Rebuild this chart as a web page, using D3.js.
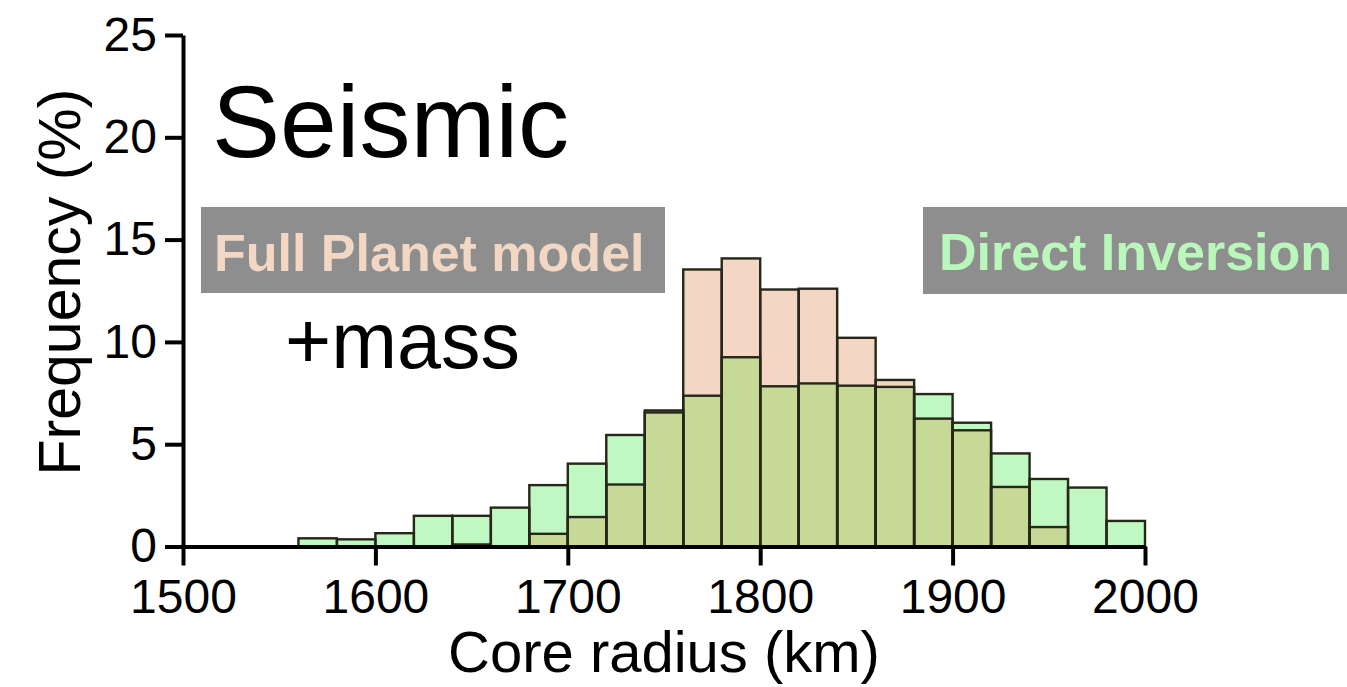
<!DOCTYPE html>
<html>
<head>
<meta charset="utf-8">
<script src="https://cdn.jsdelivr.net/npm/d3@7"></script>
<style>
    body { margin: 0; background: #fff; }
    svg { display: block; font-family: "Liberation Sans", Arial, Helvetica, sans-serif; }
</style>
</head>
<body>
<div id="chart"></div>
<script>
// Bin starts (km), 20 km wide
const binStarts = [1560, 1580, 1600, 1620, 1640, 1660, 1680, 1700, 1720, 1740, 1760,
    1780, 1800, 1820, 1840, 1860, 1880, 1900, 1920, 1940, 1960, 1980];
const binWidth = 20;

// Frequency (%) per bin
const directInversion = [0.4, 0.35, 0.65, 1.5, 1.5, 1.9, 3.0, 4.05, 5.45, 6.55, 7.37,
    9.25, 7.83, 7.97, 7.86, 7.8, 7.45, 6.05, 4.55, 3.3, 2.88, 1.25];
const fullPlanet = [0, 0, 0, 0, 0.1, 0, 0.62, 1.44, 3.03, 6.65, 13.54,
    14.08, 12.56, 12.6, 10.2, 8.14, 6.25, 5.68, 2.91, 0.95, 0, 0];

const xTicks = [1500, 1600, 1700, 1800, 1900, 2000];
const yTicks = [0, 5, 10, 15, 20, 25];

const width = 1347, height = 687;

const svg = d3.select("#chart").append("svg")
    .attr("width", width)
    .attr("height", height);

// scales
const x = d3.scaleLinear().domain([1500, 2000]).range([183, 1145]);
const y = d3.scaleLinear().domain([0, 25]).range([546.5, 35]);

const bins = binStarts.map((b, i) => ({
    x0: b,
    x1: b + binWidth,
    di: directInversion[i],
    fp: fullPlanet[i]
}));

const colors = {
    fp: "#f3d6c3",
    di: "#bff8c0",
    both: "#c6d996",
    stroke: "#262619"
};

const bars = svg.append("g");

// fills first, overlap on top, then outlines of both series
bars.selectAll(".fp-fill").data(bins).join("rect")
    .attr("class", "fp-fill")
    .attr("x", d => x(d.x0)).attr("width", d => x(d.x1) - x(d.x0))
    .attr("y", d => y(d.fp)).attr("height", d => y(0) - y(d.fp))
    .attr("fill", colors.fp);

bars.selectAll(".di-fill").data(bins).join("rect")
    .attr("class", "di-fill")
    .attr("x", d => x(d.x0)).attr("width", d => x(d.x1) - x(d.x0))
    .attr("y", d => y(d.di)).attr("height", d => y(0) - y(d.di))
    .attr("fill", colors.di);

bars.selectAll(".both-fill").data(bins).join("rect")
    .attr("class", "both-fill")
    .attr("x", d => x(d.x0)).attr("width", d => x(d.x1) - x(d.x0))
    .attr("y", d => y(Math.min(d.di, d.fp))).attr("height", d => y(0) - y(Math.min(d.di, d.fp)))
    .attr("fill", colors.both);

["fp", "di"].forEach(key => {
    bars.selectAll(`.${key}-line`).data(bins.filter(d => d[key] > 0)).join("rect")
        .attr("class", `${key}-line`)
        .attr("x", d => x(d.x0)).attr("width", d => x(d.x1) - x(d.x0))
        .attr("y", d => y(d[key])).attr("height", d => y(0) - y(d[key]))
        .attr("fill", "none")
        .attr("stroke", colors.stroke)
        .attr("stroke-width", 2.4);
});

// axes
const xAxis = svg.append("g")
    .attr("transform", `translate(0,${y(0)})`)
    .call(d3.axisBottom(x).tickValues(xTicks).tickFormat(d3.format("d"))
        .tickSize(19).tickSizeOuter(0).tickPadding(13));

const yAxis = svg.append("g")
    .attr("transform", `translate(${x(1500)},0)`)
    .call(d3.axisLeft(y).tickValues(yTicks).tickSize(18).tickSizeOuter(0).tickPadding(8));

[xAxis, yAxis].forEach(a => {
    a.select(".domain").attr("stroke", "#000").attr("stroke-width", 4);
    a.selectAll(".tick line").attr("stroke", "#000").attr("stroke-width", 4);
    a.selectAll(".tick text")
        .attr("fill", "#000")
        .style("font-family", "'Liberation Sans', Arial, sans-serif")
        .style("font-size", "48px");
});

// axis titles
svg.append("text")
    .attr("x", 664).attr("y", 672)
    .attr("text-anchor", "middle")
    .style("font-size", "58px")
    .text("Core radius (km)");

svg.append("text")
    .attr("transform", "translate(80,282) rotate(-90)")
    .attr("text-anchor", "middle")
    .style("font-size", "59px")
    .text("Frequency (%)");

// annotations
svg.append("text")
    .attr("x", 212).attr("y", 157)
    .style("font-size", "102px")
    .text("Seismic");

svg.append("text")
    .attr("x", 285).attr("y", 368)
    .style("font-size", "79px")
    .text("+mass");

const labels = [
    { text: "Full Planet model", box: [201, 207, 464, 86], tx: 214, ty: 271, color: "#f2d8c4" },
    { text: "Direct Inversion", box: [923, 207, 430, 87], tx: 939, ty: 270, color: "#b9f7ba" }
];

labels.forEach(l => {
    svg.append("rect")
        .attr("x", l.box[0]).attr("y", l.box[1])
        .attr("width", l.box[2]).attr("height", l.box[3])
        .attr("fill", "#8e8e8e");
    svg.append("text")
        .attr("x", l.tx).attr("y", l.ty)
        .attr("fill", l.color)
        .style("font-size", "52px")
        .style("font-weight", "bold")
        .text(l.text);
});
</script>
</body>
</html>
